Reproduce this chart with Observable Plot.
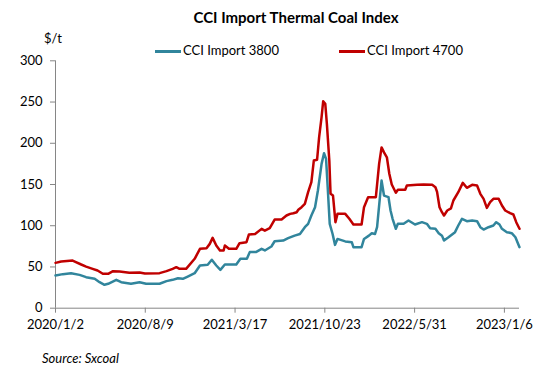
<!DOCTYPE html>
<html>
<head>
<meta charset="utf-8">
<script src="https://cdn.jsdelivr.net/npm/d3@7"></script>
<script src="https://cdn.jsdelivr.net/npm/@observablehq/plot@0.6"></script>
<style>
  html, body { margin: 0; padding: 0; background: #fff; }
  #wrap { position: relative; width: 556px; height: 377px; font-family: Lato, "Open Sans", sans-serif; color: #000; }
  #wrap .t { position: absolute; white-space: nowrap; line-height: 1.2; }
  #title { left: 0; width: 592px; text-align: center; top: 8px; font-size: 15px; font-weight: bold; }
  #unit { left: 44px; top: 31px; font-size: 13px; }
  #source { left: 42px; top: 351px; font-size: 13px; font-style: italic; }
  .sw { position: absolute; height: 3px; }
</style>
</head>
<body>
<div id="wrap">
  <div id="chart"></div>
  <div class="t" id="title">CCI Import Thermal Coal Index</div>
  <div class="t" id="unit">$/t</div>
  <div class="sw" style="left:155px; width:26px; top:50px; background:#31859C;"></div>
  <div class="t" style="left:183px; top:43px; font-size:13px;">CCI Import 3800</div>
  <div class="sw" style="left:339px; width:26px; top:50px; background:#C00000;"></div>
  <div class="t" style="left:367px; top:43px; font-size:13px;">CCI Import 4700</div>
  <div class="t" id="source">Source: Sxcoal</div>
</div>
<script>
const seriesNames = ["CCI Import 3800", "CCI Import 4700"];

const dates3800 = ["2020-01-02","2020-01-20","2020-02-09","2020-03-01","2020-03-17","2020-04-07","2020-04-19","2020-05-01","2020-05-10","2020-05-30","2020-06-11","2020-07-05","2020-07-26","2020-08-11","2020-09-13","2020-09-30","2020-10-15","2020-10-28","2020-11-09","2020-11-21","2020-12-08","2020-12-21","2021-01-09","2021-01-19","2021-01-30","2021-02-09","2021-02-20","2021-03-20","2021-03-30","2021-04-15","2021-04-22","2021-05-07","2021-05-21","2021-05-29","2021-06-14","2021-06-22","2021-07-13","2021-07-25","2021-08-10","2021-08-23","2021-09-04","2021-09-12","2021-09-20","2021-09-29","2021-10-06","2021-10-15","2021-10-21","2021-10-26","2021-10-30","2021-11-04","2021-11-11","2021-11-17","2021-11-23","2021-12-12","2021-12-28","2022-01-01","2022-01-21","2022-01-27","2022-02-08","2022-02-15","2022-02-23","2022-02-28","2022-03-07","2022-03-11","2022-03-17","2022-03-28","2022-04-02","2022-04-07","2022-04-15","2022-04-20","2022-05-04","2022-05-16","2022-06-01","2022-06-18","2022-06-30","2022-07-08","2022-07-21","2022-07-29","2022-08-06","2022-08-11","2022-08-22","2022-09-07","2022-09-15","2022-09-24","2022-10-06","2022-10-19","2022-10-31","2022-11-08","2022-11-16","2022-11-28","2022-12-10","2022-12-17","2022-12-25","2022-12-31","2023-01-12","2023-01-24","2023-02-02","2023-02-12"];
const values3800 = [39.6,41.3,42.5,40.4,37.6,35.6,31.5,28.4,29.6,34.4,31.5,29.6,31.5,29.6,29.6,32.8,34.4,36.4,35.6,38.4,42.4,51.8,52.6,58.7,51.8,46.5,53,53,59.9,60,68,68,72,70,74.8,81.2,82,84.9,88,90,98.2,102.3,112.4,122.5,142.7,175,188,181,146.7,102.3,90,76.8,84,81,80,74,74,84,88,90.9,90,98.2,134.6,154.8,136.6,134.6,118.5,108.4,96.3,102.3,102.3,106.3,101.5,104.3,102.3,97,96.3,91,88,82,86,92.2,100.3,108.4,105.5,106.3,105.5,98.2,95.4,98.2,100.3,104.3,101.5,96.3,92.2,91,86,74];

const dates4700 = ["2020-01-02","2020-01-16","2020-02-13","2020-02-21","2020-03-05","2020-03-17","2020-04-02","2020-04-14","2020-04-27","2020-05-10","2020-05-22","2020-06-07","2020-07-01","2020-07-26","2020-08-08","2020-09-13","2020-09-30","2020-10-15","2020-10-24","2020-11-01","2020-11-17","2020-12-08","2020-12-21","2021-01-06","2021-01-14","2021-01-21","2021-01-30","2021-02-08","2021-02-17","2021-02-20","2021-03-02","2021-03-20","2021-03-28","2021-04-14","2021-04-20","2021-05-05","2021-05-21","2021-05-29","2021-06-10","2021-06-22","2021-07-09","2021-07-21","2021-07-30","2021-08-07","2021-08-15","2021-08-19","2021-08-27","2021-09-04","2021-09-12","2021-09-20","2021-09-26","2021-10-04","2021-10-09","2021-10-15","2021-10-19","2021-10-24","2021-10-28","2021-11-03","2021-11-06","2021-11-12","2021-11-18","2021-11-23","2021-12-12","2021-12-22","2022-01-01","2022-01-21","2022-01-27","2022-02-06","2022-02-25","2022-03-05","2022-03-11","2022-03-17","2022-03-24","2022-03-30","2022-04-05","2022-04-15","2022-04-20","2022-05-08","2022-05-12","2022-06-06","2022-06-22","2022-07-13","2022-07-21","2022-07-25","2022-07-31","2022-08-06","2022-08-11","2022-08-19","2022-08-28","2022-09-03","2022-09-15","2022-09-26","2022-10-06","2022-10-19","2022-10-31","2022-11-08","2022-11-16","2022-11-24","2022-12-02","2022-12-10","2022-12-23","2022-12-31","2023-01-08","2023-01-20","2023-01-28","2023-02-04","2023-02-12"];
const values4700 = [55,56.6,57.8,56,53,50.5,47.7,45.7,41.7,41.7,44.9,44.5,42.9,43.3,42,42.5,44.9,47.7,49.7,47.7,47.7,59.9,72,72.8,78,85.3,76,70,70,76,72,72,78.8,80,89.4,90,96.2,94,97,107.5,107.5,112.4,114.4,115.2,116.4,119.3,122.5,126.5,140.7,152.8,179,180,207.4,231.6,251,248,223.6,179,138.7,136.6,104.3,114.4,114.4,108.4,101.5,101.5,122.5,134.6,134.6,175,195,189,183,163,150,140,143.6,143.6,148.8,149.6,150,149.6,146.7,141,122.5,116.4,112.4,118.5,121,130.6,140.7,152,146,149.6,148.8,138.7,132.6,121.7,128.6,132.6,132.6,124.5,118.5,115.2,113.6,104.3,96.3];

const xTicks = ["2020-01-02","2020-08-09","2021-03-17","2021-10-23","2022-05-31","2023-01-06"];
const yTicks = [0, 50, 100, 150, 200, 250, 300];
const xDomain = ["2020-01-02", "2023-02-12"];

const colors = ["#31859C", "#C00000"];

const parse = d3.utcParse("%Y-%m-%d");
const rows3800 = dates3800.map((d, i) => ({date: parse(d), value: values3800[i], series: seriesNames[0]}));
const rows4700 = dates4700.map((d, i) => ({date: parse(d), value: values4700[i], series: seriesNames[1]}));
const fmt = d => `${d.getUTCFullYear()}/${d.getUTCMonth() + 1}/${d.getUTCDate()}`;

const chart = Plot.plot({
  width: 556,
  height: 377,
  marginLeft: 55,
  marginRight: 37,
  marginTop: 60.3,
  marginBottom: 69.3,
  style: {fontFamily: "Lato, 'Open Sans', sans-serif", fontSize: "13px", color: "#000", background: "transparent"},
  x: {type: "utc", domain: xDomain.map(parse)},
  y: {domain: [0, 300]},
  marks: [
    Plot.axisY({ticks: yTicks, tickSize: 5, tickPadding: 8, stroke: "#868686", fill: "#000", label: null, fontSize: 13}),
    Plot.axisX({ticks: xTicks.map(parse), tickFormat: fmt, tickSize: 5, tickPadding: 7, stroke: "#868686", fill: "#000", label: null, fontSize: 13}),
    Plot.ruleX([parse(xDomain[0])], {stroke: "#868686"}),
    Plot.ruleY([0], {stroke: "#868686"}),
    Plot.line(rows3800, {x: "date", y: "value", stroke: colors[0], strokeWidth: 2.5}),
    Plot.line(rows4700, {x: "date", y: "value", stroke: colors[1], strokeWidth: 2.5})
  ]
});
document.getElementById("chart").appendChild(chart);
</script>
</body>
</html>
